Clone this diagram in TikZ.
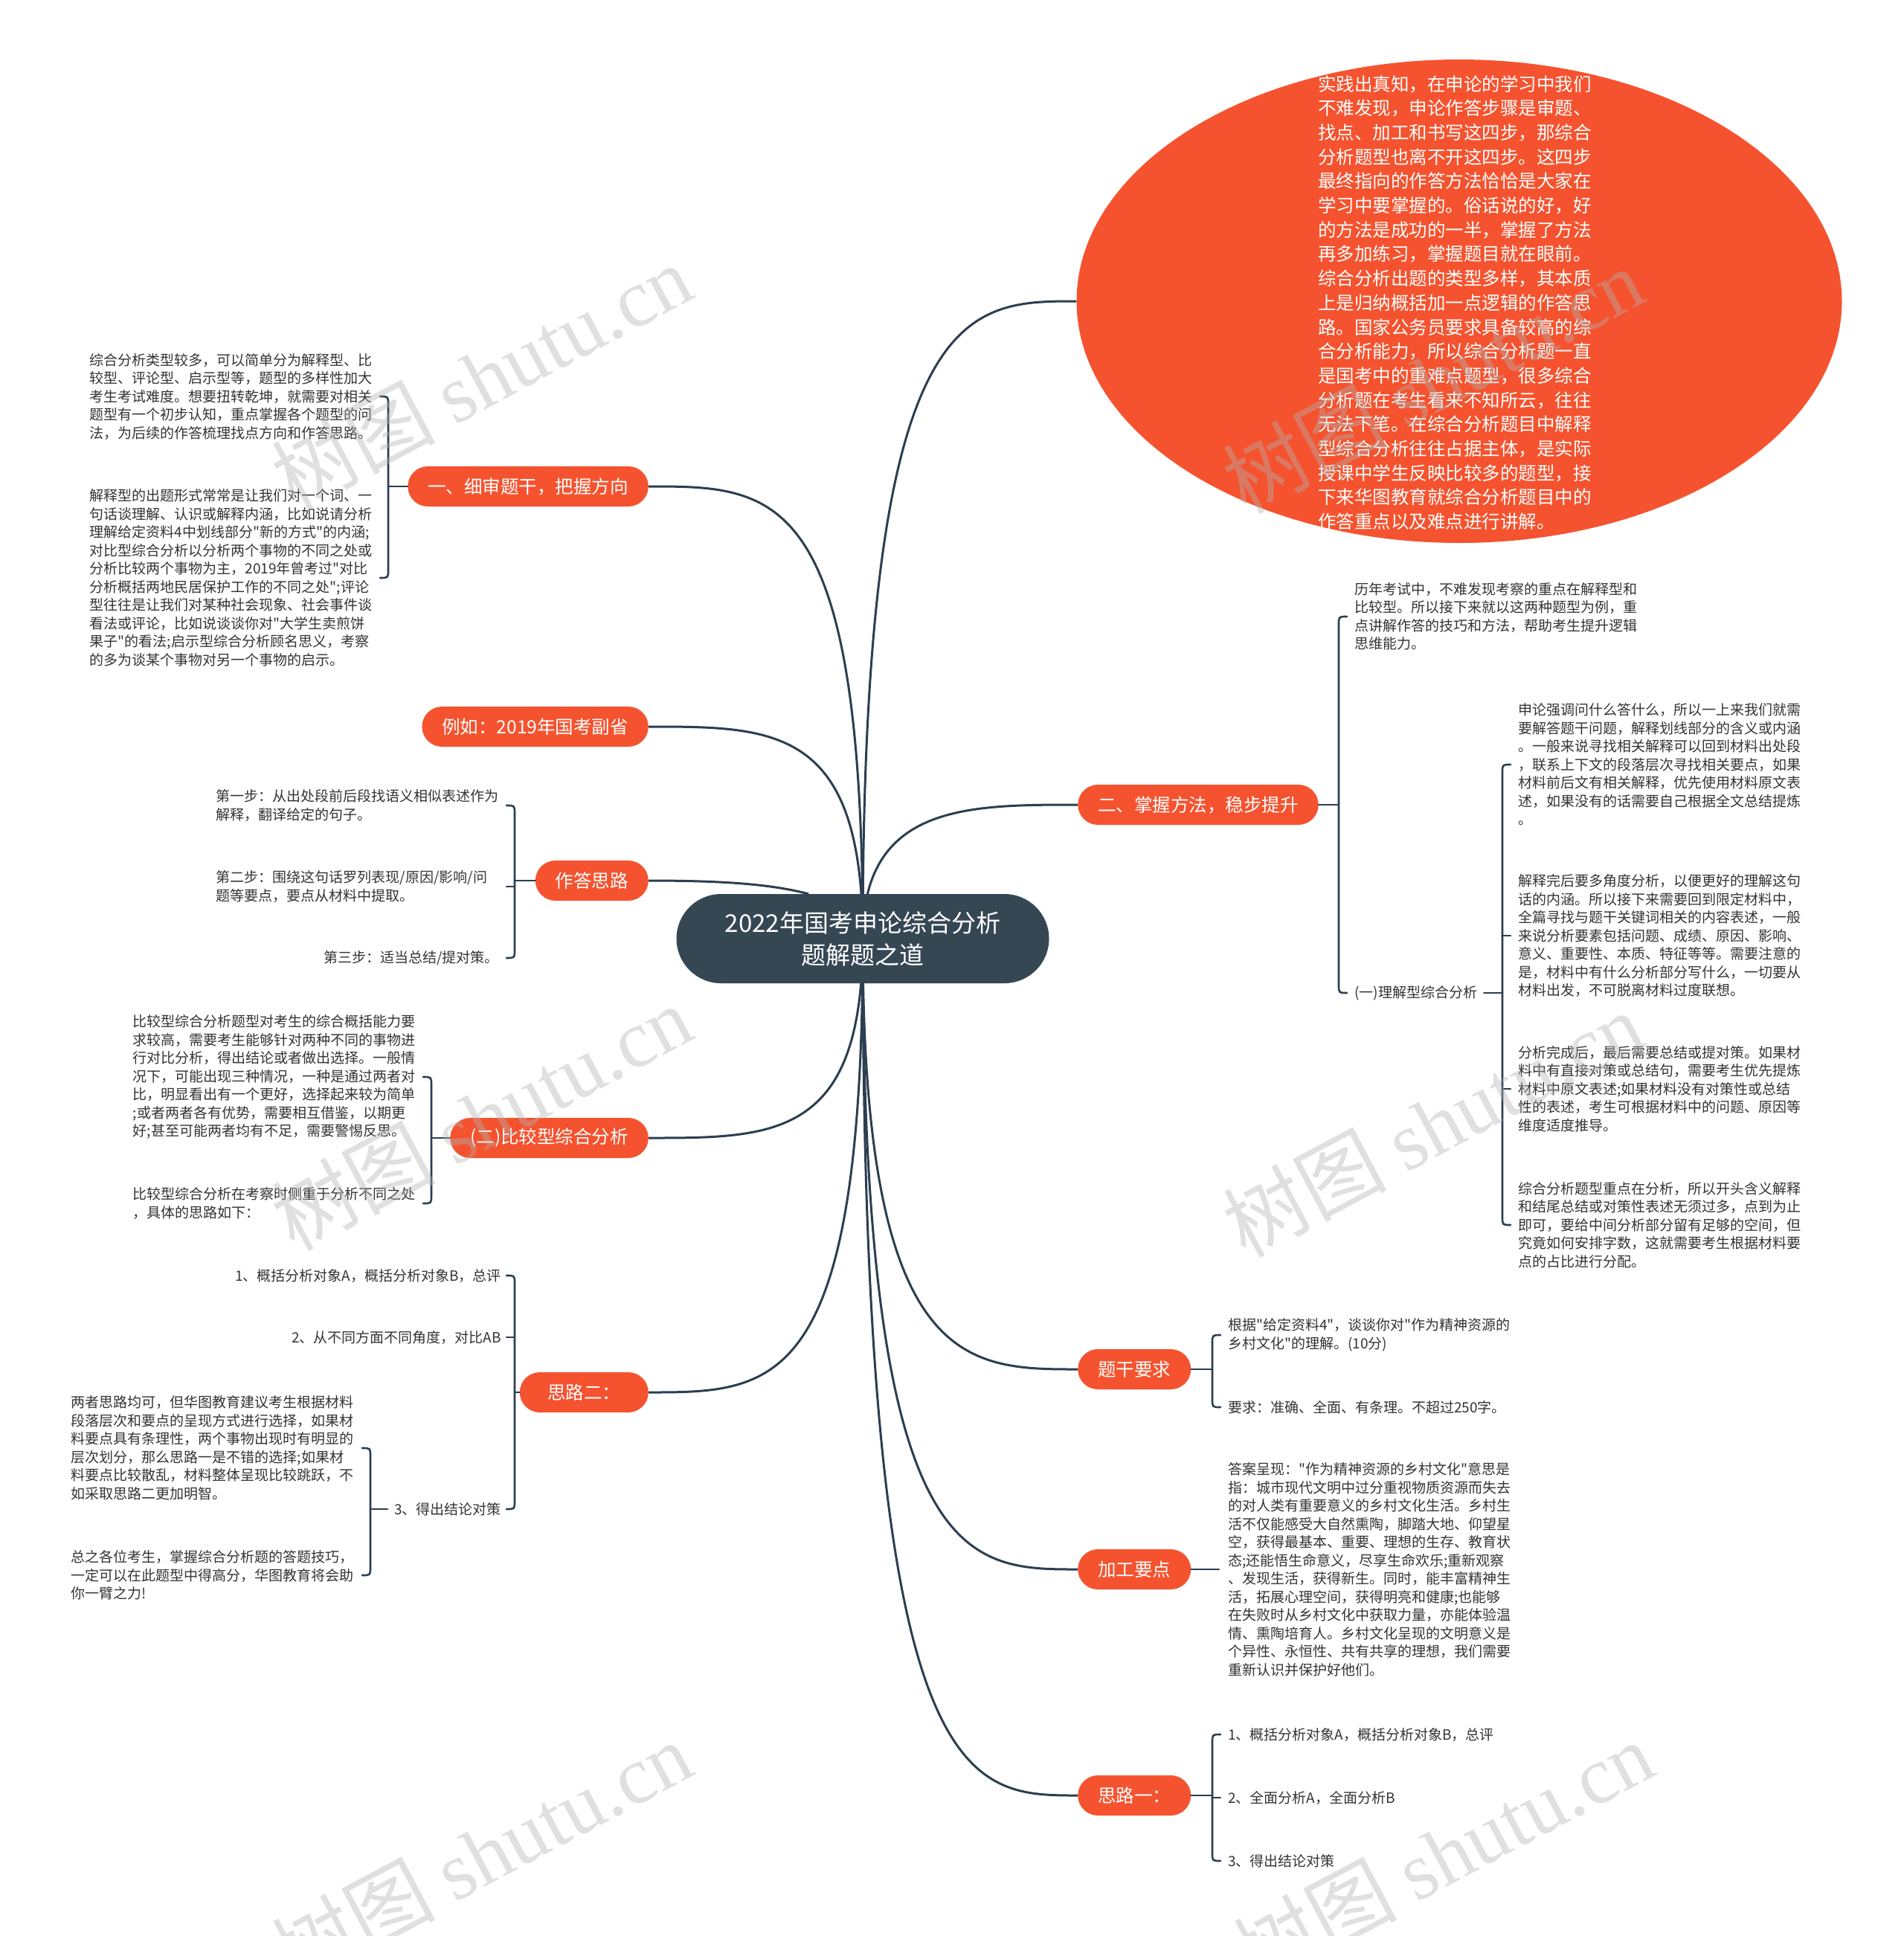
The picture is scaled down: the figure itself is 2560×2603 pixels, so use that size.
\documentclass[tikz,border=0pt]{standalone}
\usepackage{fontspec}
\setmainfont{Noto Sans CJK SC}[Ligatures=TeXOff]
\newfontfamily\wmserif{Liberation Serif}
\usetikzlibrary{shapes.geometric,calc,backgrounds}
\definecolor{orng}{RGB}{245,83,47}
\definecolor{darkbox}{RGB}{54,71,84}
\definecolor{lnk}{RGB}{44,62,80}
\definecolor{leaftxt}{RGB}{51,51,51}
\tikzset{
  conn/.style={draw=lnk, line width=3pt},
  brk/.style={draw=lnk, line width=2.6pt, line cap=round},
  topic/.style={fill=orng, text=white, rounded corners=27pt, minimum height=54pt, inner xsep=27pt, inner ysep=0pt, font=\fontsize{24.5}{30}\selectfont},
  leaf/.style={text=leaftxt, inner sep=0pt, align=left, font=\fontsize{19}{24.5}\selectfont},
  wide/.style={leaf, text width=380pt},
  wm/.style={text=gray!60, opacity=0.4, rotate=28, inner sep=0pt, font=\fontsize{110}{110}\selectfont},
}
\newcommand\brL[3]{\draw[brk] ($(#1 |- #2)+(-11,0)$) .. controls (#1 |- #2) .. ($(#1 |- #2)+(0,11)$) -- ($(#1 |- #3)+(0,-11)$) .. controls (#1 |- #3) .. ($(#1 |- #3)+(-11,0)$);}
\newcommand\brR[3]{\draw[brk] ($(#1 |- #2)+(11,0)$) .. controls (#1 |- #2) .. ($(#1 |- #2)+(0,11)$) -- ($(#1 |- #3)+(0,-11)$) .. controls (#1 |- #3) .. ($(#1 |- #3)+(11,0)$);}
\newcommand\tkL[2]{\draw[brk] (#1 |- #2) -- ($(#1 |- #2)+(-11,0)$);}
\newcommand\tkR[2]{\draw[brk] (#1 |- #2) -- ($(#1 |- #2)+(11,0)$);}
\begin{document}
\begin{tikzpicture}[x=1pt,y=-1pt]
\useasboundingbox (0,0) rectangle (2560,2603);

% root
\node[fill=darkbox, text=white, rounded corners=60pt, minimum width=501pt, minimum height=120pt, inner sep=0pt, align=center, font=\fontsize{33}{43}\selectfont] (root) at (1160,1262) {2022年国考申论综合分析\\题解题之道};

% left topics
\node[topic, anchor=east] (n1) at (872,654) {一、细审题干，把握方向};
\node[topic, anchor=east] (n2) at (872,977) {例如：2019年国考副省};
\node[topic, anchor=east] (n3) at (872,1184) {作答思路};
\node[topic, anchor=east] (n4) at (872,1530) {(二)比较型综合分析};
\node[topic, anchor=east, minimum width=173pt] (n5) at (872,1872) {思路二：};

% right topics
\node[fill=orng, ellipse, minimum width=1029pt, minimum height=650pt, inner sep=0pt] (e) at (1962,405) {};
\node[leaf, text=white, text width=368pt, font=\fontsize{24.5}{32.7}\selectfont] (et) at (1956,407) {实践出真知，在申论的学习中我们\\不难发现，申论作答步骤是审题、\\找点、加工和书写这四步，那综合\\分析题型也离不开这四步。这四步\\最终指向的作答方法恰恰是大家在\\学习中要掌握的。俗话说的好，好\\的方法是成功的一半，掌握了方法\\再多加练习，掌握题目就在眼前。\\综合分析出题的类型多样，其本质\\上是归纳概括加一点逻辑的作答思\\路。国家公务员要求具备较高的综\\合分析能力，所以综合分析题一直\\是国考中的重难点题型，很多综合\\分析题在考生看来不知所云，往往\\无法下笔。在综合分析题目中解释\\型综合分析往往占据主体，是实际\\授课中学生反映比较多的题型，接\\下来华图教育就综合分析题目中的\\作答重点以及难点进行讲解。};
\node[topic, anchor=west] (n7) at (1449,1082) {二、掌握方法，稳步提升};
\node[topic, anchor=west] (n8) at (1449,1841) {题干要求};
\node[topic, anchor=west] (n9) at (1449,2110) {加工要点};
\node[topic, anchor=west, minimum width=128pt] (n10) at (1449,2414) {思路一：};

% group 1
\coordinate (b1) at (522,654);
\node[wide, anchor=east] (t11) at (501,533) {综合分析类型较多，可以简单分为解释型、比\\较型、评论型、启示型等，题型的多样性加大\\考生考试难度。想要扭转乾坤，就需要对相关\\题型有一个初步认知，重点掌握各个题型的问\\法，为后续的作答梳理找点方向和作答思路。};
\node[wide, anchor=east] (t12) at (501,777) {解释型的出题形式常常是让我们对一个词、一\\句话谈理解、认识或解释内涵，比如说请分析\\理解给定资料4中划线部分"新的方式"的内涵;\\对比型综合分析以分析两个事物的不同之处或\\分析比较两个事物为主，2019年曾考过"对比\\分析概括两地民居保护工作的不同之处";评论\\型往往是让我们对某种社会现象、社会事件谈\\看法或评论，比如说谈谈你对"大学生卖煎饼\\果子"的看法;启示型综合分析顾名思义，考察\\的多为谈某个事物对另一个事物的启示。};

% group 3
\coordinate (b3) at (692,1184);
\node[wide, anchor=east] (t31) at (671,1083) {第一步：从出处段前后段找语义相似表述作为\\解释，翻译给定的句子。};
\node[wide, anchor=east] (t32) at (671,1192) {第二步：围绕这句话罗列表现/原因/影响/问\\题等要点，要点从材料中提取。};
\node[leaf, anchor=east] (t33) at (671,1288) {第三步：适当总结/提对策。};

% group 4
\coordinate (b4) at (580,1530);
\node[wide, anchor=east] (t41) at (559,1448) {比较型综合分析题型对考生的综合概括能力要\\求较高，需要考生能够针对两种不同的事物进\\行对比分析，得出结论或者做出选择。一般情\\况下，可能出现三种情况，一种是通过两者对\\比，明显看出有一个更好，选择起来较为简单\\;或者两者各有优势，需要相互借鉴，以期更\\好;甚至可能两者均有不足，需要警惕反思。};
\node[wide, anchor=east] (t42) at (559,1618) {比较型综合分析在考察时侧重于分析不同之处\\，具体的思路如下：};

% group 5
\coordinate (b5) at (692,1872);
\node[leaf, anchor=east] (t51) at (674,1715) {1、概括分析对象A，概括分析对象B，总评};
\node[leaf, anchor=east] (t52) at (674,1798) {2、从不同方面不同角度，对比AB};
\node[leaf, anchor=east] (t53) at (674,2029) {3、得出结论对策};
\coordinate (b53) at (498,2029);
\node[wide, anchor=east] (t531) at (476,1947) {两者思路均可，但华图教育建议考生根据材料\\段落层次和要点的呈现方式进行选择，如果材\\料要点具有条理性，两个事物出现时有明显的\\层次划分，那么思路一是不错的选择;如果材\\料要点比较散乱，材料整体呈现比较跳跃，不\\如采取思路二更加明智。};
\node[wide, anchor=east] (t532) at (476,2118) {总之各位考生，掌握综合分析题的答题技巧，\\一定可以在此题型中得高分，华图教育将会助\\你一臂之力!};

% group 7
\coordinate (b7) at (1800,1082);
\node[wide, anchor=west] (t71) at (1821,829) {历年考试中，不难发现考察的重点在解释型和\\比较型。所以接下来就以这两种题型为例，重\\点讲解作答的技巧和方法，帮助考生提升逻辑\\思维能力。};
\node[leaf, anchor=west] (t72) at (1821,1335) {(一)理解型综合分析};
\coordinate (b72) at (2020,1335);
\node[wide, anchor=west] (t721) at (2041,1028) {申论强调问什么答什么，所以一上来我们就需\\要解答题干问题，解释划线部分的含义或内涵\\。一般来说寻找相关解释可以回到材料出处段\\，联系上下文的段落层次寻找相关要点，如果\\材料前后文有相关解释，优先使用材料原文表\\述，如果没有的话需要自己根据全文总结提炼\\。};
\node[wide, anchor=west] (t722) at (2041,1258) {解释完后要多角度分析，以便更好的理解这句\\话的内涵。所以接下来需要回到限定材料中，\\全篇寻找与题干关键词相关的内容表述，一般\\来说分析要素包括问题、成绩、原因、影响、\\意义、重要性、本质、特征等等。需要注意的\\是，材料中有什么分析部分写什么，一切要从\\材料出发，不可脱离材料过度联想。};
\node[wide, anchor=west] (t723) at (2041,1464) {分析完成后，最后需要总结或提对策。如果材\\料中有直接对策或总结句，需要考生优先提炼\\材料中原文表述;如果材料没有对策性或总结\\性的表述，考生可根据材料中的问题、原因等\\维度适度推导。};
\node[wide, anchor=west] (t724) at (2041,1647) {综合分析题型重点在分析，所以开头含义解释\\和结尾总结或对策性表述无须过多，点到为止\\即可，要给中间分析部分留有足够的空间，但\\究竟如何安排字数，这就需要考生根据材料要\\点的占比进行分配。};

% group 8
\coordinate (b8) at (1630,1841);
\node[leaf, anchor=west] (t81) at (1651,1795) {根据"给定资料4"，谈谈你对"作为精神资源的\\乡村文化"的理解。(10分)};
\node[leaf, anchor=west] (t82) at (1651,1892) {要求：准确、全面、有条理。不超过250字。};

% group 9
\node[wide, anchor=west] (t91) at (1651,2110) {答案呈现："作为精神资源的乡村文化"意思是\\指：城市现代文明中过分重视物质资源而失去\\的对人类有重要意义的乡村文化生活。乡村生\\活不仅能感受大自然熏陶，脚踏大地、仰望星\\空，获得最基本、重要、理想的生存、教育状\\态;还能悟生命意义，尽享生命欢乐;重新观察\\、发现生活，获得新生。同时，能丰富精神生\\活，拓展心理空间，获得明亮和健康;也能够\\在失败时从乡村文化中获取力量，亦能体验温\\情、熏陶培育人。乡村文化呈现的文明意义是\\个异性、永恒性、共有共享的理想，我们需要\\重新认识并保护好他们。};

% group 10
\coordinate (b10) at (1630,2414);
\node[leaf, anchor=west] (t101) at (1651,2332) {1、概括分析对象A，概括分析对象B，总评};
\node[leaf, anchor=west] (t102) at (1651,2417) {2、全面分析A，全面分析B};
\node[leaf, anchor=west] (t103) at (1651,2502) {3、得出结论对策};

% connectors behind
\begin{scope}[on background layer]
\fill[white] (0,0) rectangle (2560,2603);
\draw[conn] (root.center) .. controls (root.center |- n1.east) and ($(n1.east)+(170,0)$) .. (n1.east);
\draw[conn] (root.center) .. controls (root.center |- n2.east) and ($(n2.east)+(170,0)$) .. (n2.east);
\draw[conn] (n3.east) .. controls ($(n3.east)+(110,0)$) and ($(root.north)+(-120,-12)$) .. ($(root.north)+(-73,0)$);
\draw[conn] (root.center) .. controls (root.center |- n4.east) and ($(n4.east)+(170,0)$) .. (n4.east);
\draw[conn] (root.center) .. controls (root.center |- n5.east) and ($(n5.east)+(170,0)$) .. (n5.east);
\draw[conn] (root.center) .. controls (root.center |- e.west) and ($(e.west)+(-150,0)$) .. (e.west);
\draw[conn] (root.center) .. controls (root.center |- n7.west) and ($(n7.west)+(-150,0)$) .. (n7.west);
\draw[conn] (root.center) .. controls (root.center |- n8.west) and ($(n8.west)+(-150,0)$) .. (n8.west);
\draw[conn] (root.center) .. controls (root.center |- n9.west) and ($(n9.west)+(-150,0)$) .. (n9.west);
\draw[conn] (root.center) .. controls (root.center |- n10.west) and ($(n10.west)+(-150,0)$) .. (n10.west);
\end{scope}

% brackets
\draw[brk] (n1.west) -- (b1);
\brL{b1}{t11}{t12}
\draw[brk] (n3.west) -- (b3);
\brL{b3}{t31}{t33}
\tkL{b3}{t32}
\draw[brk] (n4.west) -- (b4);
\brL{b4}{t41}{t42}
\draw[brk] (n5.west) -- (b5);
\brL{b5}{t51}{t53}
\tkL{b5}{t52}
\draw[brk] ($(t53.west)+(-9,0)$) -- (b53);
\brL{b53}{t531}{t532}
\draw[brk] (n7.east) -- (b7);
\brR{b7}{t71}{t72}
\draw[brk] ($(t72.east)+(9,0)$) -- (b72);
\brR{b72}{t721}{t724}
\tkR{b72}{t722}
\tkR{b72}{t723}
\draw[brk] (n8.east) -- (b8);
\brR{b8}{t81}{t82}
\draw[brk] (n9.east) -- ($(t91.west)+(-12,0)$);
\draw[brk] (n10.east) -- (b10);
\brR{b10}{t101}{t103}
\tkR{b10}{t102}

% watermarks
\node[wm] (w1) at (647,506) {树图 {\wmserif shutu.cn}};
\node[wm] (w2) at (1926,511) {树图 {\wmserif shutu.cn}};
\node[wm] (w3) at (647,1502) {树图 {\wmserif shutu.cn}};
\node[wm] (w4) at (1926,1511) {树图 {\wmserif shutu.cn}};
\node[wm] (w5) at (647,2492) {树图 {\wmserif shutu.cn}};
\node[wm] (w6) at (1940,2492) {树图 {\wmserif shutu.cn}};
\end{tikzpicture}
\end{document}
